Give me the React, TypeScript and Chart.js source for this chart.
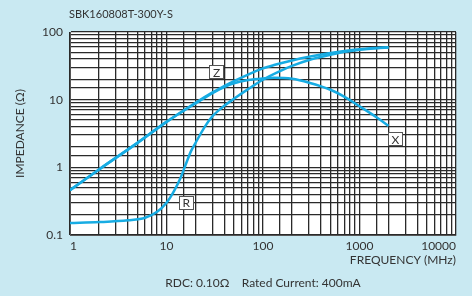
import React, { useEffect, useRef } from "react";
import { Chart, registerables } from "chart.js";

Chart.register(...registerables);

const chartTitle = "SBK160808T-300Y-S";
const footerText = "RDC: 0.10Ω    Rated Current: 400mA";
const xAxisTitle = "FREQUENCY (MHz)";
const yAxisTitle = "IMPEDANCE (Ω)";

const freqZX = [1, 2, 5, 10, 20, 30, 40, 50, 70, 100, 130, 200, 300, 500, 700, 1000, 1500, 2000];
const zValues = [0.46, 0.93, 2.3, 4.7, 9.0, 12.8, 16.0, 18.8, 23.5, 29, 32.5, 38, 43, 49, 52.5, 55.5, 58, 59.5];
const xValues = [0.46, 0.93, 2.3, 4.7, 8.8, 12.5, 15.5, 17.5, 19.5, 20.6, 21, 20.3, 17.8, 14, 11, 8.0, 5.5, 4.1];

const freqR = [1, 2, 4, 6, 8, 10, 12, 14, 16, 18, 20, 25, 30, 35, 40, 50, 70, 100, 150, 200, 300, 500, 700, 1000, 1500, 2000];
const rValues = [0.15, 0.155, 0.165, 0.18, 0.22, 0.3, 0.45, 0.7, 1.15, 1.75, 2.3, 4.0, 5.7, 7.0, 8.2, 10.3, 14.3, 19.8, 26.5, 31.5, 38.5, 46, 51, 54.5, 57.5, 59];

const curveLabels = ["Z", "R", "X"];
const labelFreqs = [33, 16, 2350];
const labelValues = [25.5, 0.3, 2.6];

const FONT = "Lato, 'Open Sans', sans-serif";
const LINE_COLOR = "#17ACE3";
const GRID_COLOR = "#2a2a2a";

function isPow10(v: number) {
  const l = Math.log10(v);
  return Math.abs(l - Math.round(l)) < 1e-6;
}

const decorPlugin = {
  id: "decor",
  beforeDraw(chart: any) {
    const { ctx, chartArea } = chart;
    ctx.save();
    ctx.fillStyle = "#ffffff";
    ctx.fillRect(chartArea.left, chartArea.top, chartArea.right - chartArea.left, chartArea.bottom - chartArea.top);
    ctx.restore();
  },
  afterDraw(chart: any) {
    const { ctx, chartArea, scales } = chart;
    ctx.save();
    ctx.fillStyle = "#333333";
    ctx.font = `11px ${FONT}`;
    ctx.textAlign = "left";
    ctx.textBaseline = "middle";
    ctx.fillText(chartTitle, chartArea.left - 1, 14);
    ctx.font = `12px ${FONT}`;
    ctx.textAlign = "center";
    ctx.fillText(footerText, (chartArea.left + chartArea.right) / 2, 283);
    ctx.font = `12px ${FONT}`;
    for (let i = 0; i < curveLabels.length; i++) {
      const px = scales.x.getPixelForValue(labelFreqs[i]);
      const py = scales.y.getPixelForValue(labelValues[i]);
      const w = 15, h = 14;
      ctx.fillStyle = "#ffffff";
      ctx.fillRect(Math.round(px - w / 2), Math.round(py - h / 2), w, h);
      ctx.strokeStyle = "#555555";
      ctx.lineWidth = 1;
      ctx.strokeRect(Math.round(px - w / 2) + 0.5, Math.round(py - h / 2) + 0.5, w - 1, h - 1);
      ctx.fillStyle = "#333333";
      ctx.textAlign = "center";
      ctx.textBaseline = "middle";
      ctx.fillText(curveLabels[i], px, py + 0.5);
    }
    ctx.restore();
  },
};

export default function App() {
  const canvasRef = useRef<HTMLCanvasElement | null>(null);

  useEffect(() => {
    if (!canvasRef.current) return;
    const mk = (xs: number[], ys: number[]) => xs.map((x, i) => ({ x, y: ys[i] }));
    const lineStyle = {
      borderColor: LINE_COLOR,
      borderWidth: 2.5,
      pointRadius: 0,
      fill: false,
      cubicInterpolationMode: "monotone" as const,
    };
    const chart = new Chart(canvasRef.current, {
      type: "line",
      data: {
        datasets: [
          { label: "Z", data: mk(freqZX, zValues), ...lineStyle },
          { label: "X", data: mk(freqZX, xValues), ...lineStyle },
          { label: "R", data: mk(freqR, rValues), ...lineStyle },
        ],
      },
      options: {
        animation: false,
        responsive: false,
        maintainAspectRatio: false,
        layout: { padding: { left: 0, right: 16, top: 32, bottom: 0 } },
        plugins: {
          legend: { display: false },
          tooltip: { enabled: false },
          title: { display: false },
        },
        scales: {
          x: {
            type: "logarithmic",
            min: 1,
            max: 10000,
            grid: { color: GRID_COLOR, lineWidth: 1.3, drawTicks: false },
            border: { display: true, color: "#555555", width: 1 },
            ticks: {
              autoSkip: false,
              maxRotation: 0,
              align: "inner",
              padding: 4,
              color: "#333333",
              font: { family: FONT, size: 12 },
              callback: (v: any) => (isPow10(Number(v)) ? String(Math.round(Number(v))) : ""),
            },
            title: {
              display: true,
              text: xAxisTitle,
              align: "end",
              color: "#333333",
              font: { family: FONT, size: 12 },
              padding: { top: 0, bottom: 29 },
            },
            afterFit: (scale: any) => {
              scale.height = 61;
            },
          },
          y: {
            type: "logarithmic",
            min: 0.1,
            max: 100,
            grid: { color: GRID_COLOR, lineWidth: 1.3, drawTicks: false },
            border: { display: true, color: "#555555", width: 1 },
            ticks: {
              autoSkip: false,
              padding: 7,
              color: "#333333",
              font: { family: FONT, size: 12 },
              callback: (v: any) => {
                const n = Number(v);
                if (!isPow10(n)) return "";
                return n < 1 ? n.toFixed(1) : String(Math.round(n));
              },
            },
            title: {
              display: true,
              text: yAxisTitle,
              color: "#333333",
              font: { family: FONT, size: 12 },
              padding: { top: 13, bottom: 0 },
            },
            afterFit: (scale: any) => {
              scale.width = 70;
            },
          },
        },
      } as any,
      plugins: [decorPlugin],
    });
    return () => chart.destroy();
  }, []);

  return (
    <div
      style={{
        position: "fixed",
        left: 0,
        top: 0,
        width: 472,
        height: 296,
        background: "#C9E9F2",
      }}
    >
      <canvas ref={canvasRef} width={472} height={296} style={{ display: "block" }} />
    </div>
  );
}
